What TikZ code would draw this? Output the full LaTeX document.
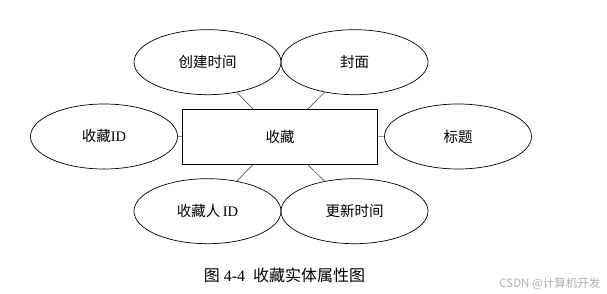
\documentclass[tikz,border=0pt]{standalone}
\usepackage{fontspec}
\setmainfont{Liberation Serif}
\newfontfamily\cjk{Noto Sans CJK SC}
\usetikzlibrary{shapes.geometric}

\begin{document}
\begin{tikzpicture}[x=1pt,y=-1pt,
    attr/.style={ellipse, draw, line width=0.7pt, minimum width=147pt, minimum height=65pt, inner sep=0pt, font=\fontsize{14.5}{14.5}\selectfont},
    entity/.style={rectangle, draw, line width=0.8pt, minimum width=195pt, minimum height=55pt, inner sep=0pt, font=\fontsize{14.5}{14.5}\selectfont},
    link/.style={draw=black!65, line width=0.7pt}]
                \useasboundingbox (0,0) rectangle (607,294);
                \def\lx{207.5}
                \def\rx{354.5}
                % entity
                \node[entity] (fav) at (280,136.8) {\cjk 收藏};
                % attributes
                \node[attr] (ctime) at (\lx,62.2) {\cjk 创建时间};
                \node[attr] (cover) at (\rx,62.2) {\cjk 封面};
                \node[attr] (favid) at (104,136.5) {{\cjk 收藏}ID};
                \node[attr] (title) at (458,136.5) {\cjk 标题};
                \node[attr] (userid) at (\lx,211.2) {{\cjk 收藏人}\,ID};
                \node[attr] (utime) at (\rx,211.2) {\cjk 更新时间};
                % links
                \foreach \a in {ctime,cover,favid,title,userid,utime}
                    \draw[link] (fav) -- (\a);
                % caption
                \node[font=\fontsize{16}{16}\selectfont] (cap) at (284.5,275) {{\cjk 图}\hspace{4pt}4-4\hspace{8pt}{\cjk 收藏实体属性图}};
                \node[font=\fontsize{11.5}{11.5}\selectfont\cjk, text=black!30, anchor=east] (mark) at (604,284) {CSDN @计算机开发};
            \end{tikzpicture}
\end{document}
